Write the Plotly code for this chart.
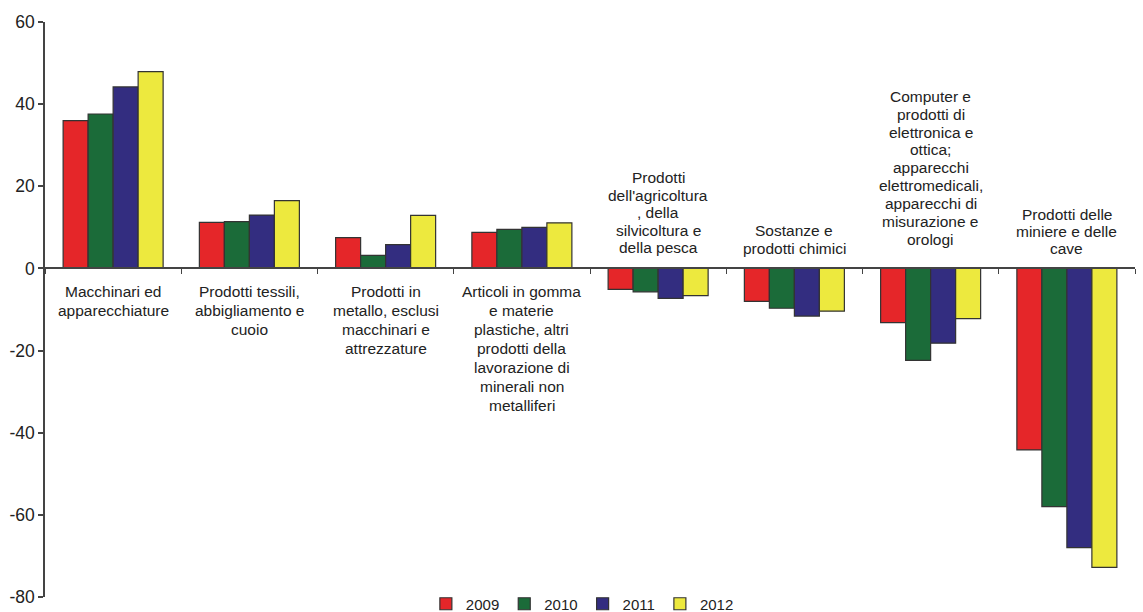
import plotly.graph_objects as go

categories = [
    "Macchinari ed<br>apparecchiature",
    "Prodotti tessili,<br>abbigliamento e<br>cuoio",
    "Prodotti in<br>metallo, esclusi<br>macchinari e<br>attrezzature",
    "Articoli in gomma<br>e materie<br>plastiche, altri<br>prodotti della<br>lavorazione di<br>minerali non<br>metalliferi",
    "Prodotti<br>dell'agricoltura<br>, della<br>silvicoltura e<br>della pesca",
    "Sostanze e<br>prodotti chimici",
    "Computer e<br>prodotti di<br>elettronica e<br>ottica;<br>apparecchi<br>elettromedicali,<br>apparecchi di<br>misurazione e<br>orologi",
    "Prodotti delle<br>miniere e delle<br>cave",
]
years = ["2009", "2010", "2011", "2012"]
v2009 = [36.0, 11.2, 7.5, 8.8, -5.1, -8.0, -13.2, -44.2]
v2010 = [37.6, 11.4, 3.2, 9.5, -5.7, -9.7, -22.4, -58.0]
v2011 = [44.2, 13.0, 5.8, 10.0, -7.3, -11.6, -18.2, -68.0]
v2012 = [47.9, 16.5, 12.9, 11.1, -6.6, -10.4, -12.2, -72.8]
series = [v2009, v2010, v2011, v2012]
colors = ["#E52629", "#1B6B39", "#332D80", "#EDE93E"]
y_ticks = [60, 40, 20, 0, -20, -40, -60, -80]
y_ticktext = ["60", "40", "20", "0", "-20", "-40", "-60", "-80"]

# label styling (pixel distance of nearest line from the zero line, line pitch)
label_gap = [23, 23, 23, 23, 20.5, 20, 29, 20]
label_pitch = [19, 19, 19, 19, 17.5, 17.5, 17.9, 17.2]

FONT = "Liberation Sans, Arial, sans-serif"
xs = list(range(len(categories)))

W, H = 1143, 612
M_T, M_B = 22, 0
plot_h = H - M_T - M_B              # 590
axis_h = 575                        # pixel height of the value axis
dom0 = (plot_h - axis_h) / plot_h   # bottom of y domain in paper units
ymin, ymax = -80, 60
zero_pos = dom0 + (0 - ymin) / (ymax - ymin) * (1 - dom0)

fig = go.Figure()
for name, vals, col in zip(years, series, colors):
    fig.add_trace(go.Bar(
        x=xs, y=vals, name=name,
        marker=dict(color=col, line=dict(color="#333333", width=1.2)),
    ))

for i, lab in enumerate(categories):
    positive = all(s[i] >= 0 for s in series)
    lines = lab.split("<br>")
    n = len(lines)
    for k, line in enumerate(lines):
        if positive:
            shift = -(label_gap[i] + k * label_pitch[i])
        else:
            shift = label_gap[i] + (n - 1 - k) * label_pitch[i]
        fig.add_annotation(
            x=i, y=0, xref="x", yref="y", text=line, showarrow=False,
            yanchor="middle", xanchor="center", yshift=shift,
            font=dict(family=FONT, size=15.5, color="#222222"),
            borderpad=0,
        )

fig.update_layout(
    width=W, height=H,
    margin=dict(l=45, r=8, t=M_T, b=M_B, autoexpand=False),
    paper_bgcolor="white", plot_bgcolor="white",
    barmode="group", bargap=0.266, bargroupgap=0,
    font=dict(family=FONT, color="#222222"),
    showlegend=True,
    legend=dict(
        orientation="h", x=0.493, xanchor="center", y=8 / plot_h, yanchor="middle",
        font=dict(family=FONT, size=15, color="#222222"),
        itemwidth=30, tracegroupgap=0, itemclick=False,
        bgcolor="rgba(0,0,0,0)",
    ),
    xaxis=dict(
        range=[-0.5, len(categories) - 0.5],
        tickvals=[i - 0.5 for i in range(len(categories) + 1)],
        ticktext=[""] * (len(categories) + 1),
        ticks="outside", ticklen=5, tickcolor="#444444", tickwidth=1.2,
        showline=True, linecolor="#444444", linewidth=1.5,
        showgrid=False, zeroline=False,
        anchor="free", position=zero_pos, automargin=False,
    ),
    yaxis=dict(
        range=[ymin, ymax], tickvals=y_ticks, ticktext=y_ticktext,
        domain=[dom0, 1],
        ticks="outside", ticklen=5, tickcolor="#444444", tickwidth=1.5,
        showline=True, linecolor="#444444", linewidth=1.5,
        showgrid=False, zeroline=False, automargin=False,
        tickfont=dict(family=FONT, size=17.5, color="#222222"),
    ),
)

fig.write_html("out.html", config={"displayModeBar": False},
               post_script="document.body.style.margin='0';")
